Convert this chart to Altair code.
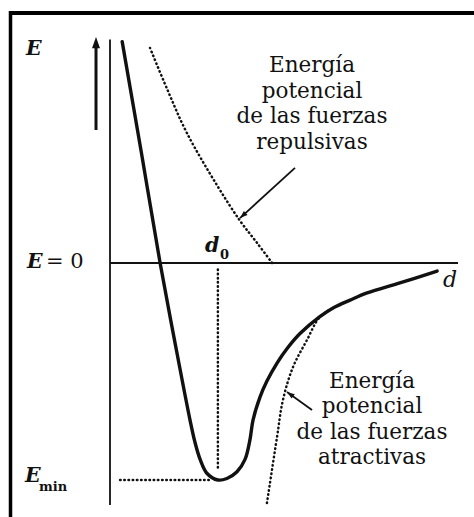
import altair as alt
import pandas as pd

# Interatomic potential energy E(d): total curve (solid)
curve_d = [0.35, 0.90, 1.44, 1.87, 2.30, 2.44, 2.59, 2.79, 3.10, 3.36, 3.65, 3.88, 4.02,
           4.11, 4.31, 4.51, 4.80, 5.09, 5.46, 6.03, 6.41, 6.90, 7.39, 8.33, 9.40]
curve_E = [1.02, 0.51, 0.00, -0.369, -0.724, -0.825, -0.905, -0.970, -1.00, -0.993, -0.962, -0.905, -0.816,
           -0.724, -0.618, -0.544, -0.461, -0.394, -0.325, -0.247, -0.207, -0.171, -0.138, -0.092, -0.037]

# Repulsive contribution (dotted, above the axis)
rep_d = [1.15, 1.64, 2.21, 3.08, 3.74, 4.22, 4.66]
rep_E = [0.991, 0.802, 0.599, 0.357, 0.194, 0.094, 0.0]

# Attractive contribution (dotted, below the curve)
att_d = [4.51, 4.80, 4.97, 5.26, 5.66, 6.03, 6.47]
att_E = [-1.106, -0.802, -0.631, -0.479, -0.355, -0.249, -0.203]

# Equilibrium distance and minimum energy
d0 = 3.10
E_min = -1.0

# Axis extents
d_max = 10.0
E_top = 1.03
E_bottom = -1.115

# Domain shown in the view
x_domain = [-3.161, 10.46]
y_domain = [-1.1705, 1.212]

# Text blocks
rep_text = "Energía\npotencial\nde las fuerzas\nrepulsivas"
att_text = "Energía\npotencial\nde las fuerzas\natractivas"
rep_anchor = (5.805, 0.880)
att_anchor = (7.529, -0.576)

# Pointer arrows: tail -> tip
rep_arrow = [(5.316, 0.438), (3.736, 0.207)]
att_arrow = [(5.805, -0.677), (5.086, -0.594)]
e_arrow = [(-0.402, 0.613), (-0.402, 1.041)]

X = alt.X("d:Q", scale=alt.Scale(domain=x_domain, nice=False, zero=False), axis=None)
Y = alt.Y("E:Q", scale=alt.Scale(domain=y_domain, nice=False, zero=False), axis=None)
X2 = alt.X2("d2:Q")
Y2 = alt.Y2("E2:Q")

ink = "#111111"
serif = "DejaVu Serif"

main = alt.Chart(pd.DataFrame({"d": curve_d, "E": curve_E})).mark_line(
    color=ink, strokeWidth=3.4, interpolate="catmull-rom", strokeCap="round", strokeJoin="round"
).encode(x=X, y=Y)

dots = dict(color=ink, strokeWidth=2.5, strokeDash=[0.5, 3.7], strokeCap="round")

rep = alt.Chart(pd.DataFrame({"d": rep_d, "E": rep_E})).mark_line(
    interpolate="catmull-rom", **dots).encode(x=X, y=Y)
att = alt.Chart(pd.DataFrame({"d": att_d, "E": att_E})).mark_line(
    interpolate="catmull-rom", **dots).encode(x=X, y=Y)

# Axes drawn as rules
axes_df = pd.DataFrame({
    "d": [0.0, 0.0], "E": [E_top, 0.0],
    "d2": [0.0, d_max], "E2": [E_bottom, 0.0],
})
axes = alt.Chart(axes_df).mark_rule(color=ink, strokeWidth=1.8).encode(x=X, y=Y, x2=X2, y2=Y2)

# Guide lines to d0 and E_min
guides_df = pd.DataFrame({
    "d": [d0, 0.29], "E": [-0.03, E_min],
    "d2": [d0, 2.87], "E2": [-0.954, E_min],
})
guides = alt.Chart(guides_df).mark_rule(**dots).encode(x=X, y=Y, x2=X2, y2=Y2)

# Arrow shafts
shaft_df = pd.DataFrame({
    "d": [rep_arrow[0][0], att_arrow[0][0], e_arrow[0][0]],
    "E": [rep_arrow[0][1], att_arrow[0][1], e_arrow[0][1]],
    "d2": [rep_arrow[1][0], att_arrow[1][0], e_arrow[1][0]],
    "E2": [rep_arrow[1][1], att_arrow[1][1], e_arrow[1][1] - 0.03],
    "w": [1.8, 1.8, 3.0],
})
shafts = alt.Chart(shaft_df).mark_rule(color=ink).encode(
    x=X, y=Y, x2=X2, y2=Y2, strokeWidth=alt.StrokeWidth("w:Q", scale=None))

head_shape = "M0,0L-0.5,1.4L0.5,1.4Z"
heads = alt.layer(
    alt.Chart(pd.DataFrame({"d": [e_arrow[1][0]], "E": [e_arrow[1][1]]})).mark_point(
        shape=head_shape, filled=True, color=ink, opacity=1, size=256, angle=0, strokeWidth=0
    ).encode(x=X, y=Y),
    alt.Chart(pd.DataFrame({"d": [rep_arrow[1][0]], "E": [rep_arrow[1][1]]})).mark_point(
        shape=head_shape, filled=True, color=ink, opacity=1, size=120, angle=228, strokeWidth=0
    ).encode(x=X, y=Y),
    alt.Chart(pd.DataFrame({"d": [att_arrow[1][0]], "E": [att_arrow[1][1]]})).mark_point(
        shape=head_shape, filled=True, color=ink, opacity=1, size=120, angle=306, strokeWidth=0
    ).encode(x=X, y=Y),
)

# Paragraph annotations
para_df = pd.DataFrame({
    "d": [rep_anchor[0], att_anchor[0]],
    "E": [rep_anchor[1], att_anchor[1]],
    "t": [rep_text, att_text],
})
paras = alt.Chart(para_df).mark_text(
    font=serif, fontSize=21.5, lineBreak="\n", lineHeight=25.5, align="center",
    baseline="alphabetic", color=ink
).encode(x=X, y=Y, text="t:N")

# Symbol labels
italic_df = pd.DataFrame({
    "d": [-2.414, -2.385, -2.443, 2.73],
    "E": [0.959, -0.023, -1.009, 0.051],
    "t": ["E", "E", "E", "d"],
})
italic_labels = alt.Chart(italic_df).mark_text(
    font=serif, fontSize=20.5, fontStyle="italic", fontWeight="bold", align="left",
    baseline="alphabetic", color=ink
).encode(x=X, y=Y, text="t:N")

d_axis_label = alt.Chart(pd.DataFrame({"d": [9.569], "E": [-0.111], "t": ["d"]})).mark_text(
    font=serif, fontSize=22, fontStyle="italic", align="left", baseline="alphabetic", color=ink
).encode(x=X, y=Y, text="t:N")

eq_label = alt.Chart(pd.DataFrame({"d": [-1.839], "E": [-0.023], "t": ["= 0"]})).mark_text(
    font=serif, fontSize=21, align="left", baseline="alphabetic", color=ink
).encode(x=X, y=Y, text="t:N")

sub_labels = alt.Chart(pd.DataFrame({
    "d": [3.161, -2.04], "E": [0.018, -1.051], "t": ["0", "min"],
})).mark_text(
    font=serif, fontSize=13, fontWeight="bold", align="left", baseline="alphabetic", color=ink
).encode(x=X, y=Y, text="t:N")

# Frame: top and left edges
frame = alt.layer(
    alt.Chart(pd.DataFrame({"k": [0]})).mark_rule(color="black", strokeWidth=4).encode(
        x=alt.value(9), x2=alt.value(474), y=alt.value(13)),
    alt.Chart(pd.DataFrame({"k": [0]})).mark_rule(color="black", strokeWidth=3.5).encode(
        x=alt.value(10.5), y=alt.value(11), y2=alt.value(517)),
)

chart = alt.layer(
    axes, guides, rep, att, main, shafts, heads, paras,
    italic_labels, d_axis_label, eq_label, sub_labels, frame,
).properties(
    width=474, height=517, autosize=alt.AutoSizeParams(type="none"),
    padding=0, background="white",
).configure_view(stroke=None)

chart.save("out.html", embed_options={"renderer": "svg", "actions": False})
